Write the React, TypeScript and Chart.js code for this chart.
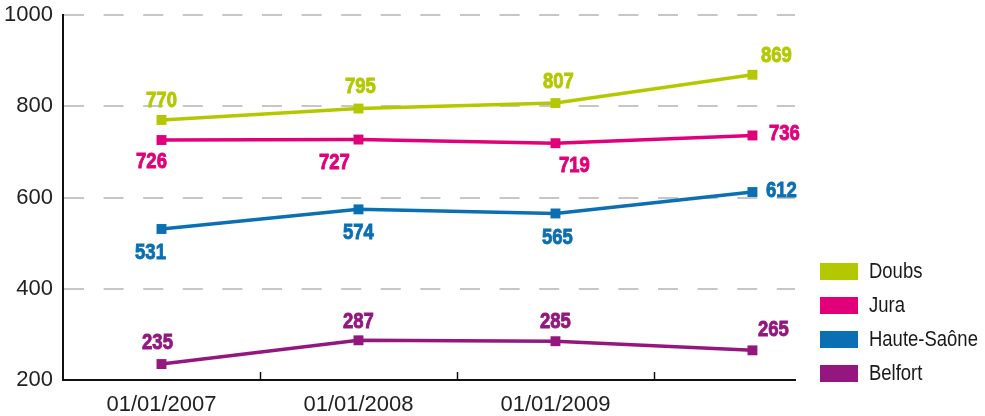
import React, { useEffect, useRef } from "react";
import { Chart, registerables } from "chart.js";

Chart.register(...registerables);

const categories = ["01/01/2007", "01/01/2008", "01/01/2009", ""];
const seriesNames = ["Doubs", "Jura", "Haute-Saône", "Belfort"];
const doubs = [770, 795, 807, 869];
const jura = [726, 727, 719, 736];
const hauteSaone = [531, 574, 565, 612];
const belfort = [235, 287, 285, 265];
const yTicks = [200, 400, 600, 800, 1000];

const colors = ["#b4c800", "#e2007a", "#0b6fb3", "#93177f"];
// label offsets (style) per series / point, in px
const labelOffsets = [
  [[0, -20], [2, -23], [3, -22], [24, -20]],
  [[-10, 21], [-24, 22], [19, 22], [32, -3]],
  [[-11, 23], [0, 23], [2, 23], [29, -2]],
  [[-4, -22], [0, -19], [0, -20], [21, -21]],
];

const LABEL_FONT = "bold 22px 'Liberation Sans', Arial, sans-serif";
const LEGEND_FONT = "22px 'Liberation Sans', Arial, sans-serif";
const CONDENSE = 0.84;

function condensedText(ctx: any, text: string, x: number, y: number, align: string, stroke: boolean) {
  ctx.save();
  ctx.translate(x, y);
  ctx.scale(CONDENSE, 1);
  ctx.textAlign = align;
  ctx.fillText(text, 0, 0);
  if (stroke) {
    ctx.lineWidth = 0.9;
    ctx.strokeStyle = ctx.fillStyle;
    ctx.strokeText(text, 0, 0);
  }
  ctx.restore();
}

const overlayPlugin = {
  id: "overlay",
  afterDraw(chart: any) {
    const ctx = chart.ctx;
    const xs = chart.scales.x;
    const area = chart.chartArea;
    ctx.save();
    // x tick marks between categories
    ctx.strokeStyle = "#111";
    ctx.lineWidth = 1.5;
    for (let i = 1; i < categories.length; i++) {
      const px = Math.round(xs.getPixelForValue(i - 0.5)) + 0.5;
      ctx.beginPath();
      ctx.moveTo(px, area.bottom - 8);
      ctx.lineTo(px, area.bottom);
      ctx.stroke();
    }
    // data labels
    ctx.font = LABEL_FONT;
    ctx.textBaseline = "middle";
    chart.data.datasets.forEach((ds: any, di: number) => {
      const meta = chart.getDatasetMeta(di);
      ctx.fillStyle = ds.borderColor;
      meta.data.forEach((el: any, pi: number) => {
        const off = labelOffsets[di][pi];
        condensedText(ctx, String(ds.data[pi].y), el.x + off[0], el.y + off[1] + 1, "center", true);
      });
    });
    // legend
    const lx = area.right + 25;
    const ly0 = 263;
    const step = 34;
    chart.data.datasets.forEach((ds: any, di: number) => {
      const y = ly0 + di * step;
      ctx.fillStyle = ds.borderColor;
      ctx.fillRect(lx, y, 38, 17);
      ctx.fillStyle = "#1a1a1a";
      ctx.font = LEGEND_FONT;
      ctx.textBaseline = "middle";
      condensedText(ctx, ds.label, lx + 49, y + 9, "left", false);
    });
    ctx.restore();
  },
};

export default function App() {
  const canvasRef = useRef<HTMLCanvasElement | null>(null);

  useEffect(() => {
    const allSeries = [doubs, jura, hauteSaone, belfort];
    const datasets = allSeries.map((vals, i) => ({
      label: seriesNames[i],
      data: vals.map((v, j) => ({ x: j, y: v })),
      borderColor: colors[i],
      backgroundColor: colors[i],
      pointBackgroundColor: colors[i],
      pointBorderWidth: 0,
      pointStyle: "rect",
      pointRadius: 7,
      borderWidth: 3.5,
      tension: 0,
    }));
    const chart = new Chart(canvasRef.current as HTMLCanvasElement, {
      type: "line",
      data: { datasets },
      options: {
        animation: false,
        responsive: true,
        maintainAspectRatio: false,
        layout: { padding: { left: 0, right: 190, top: 15, bottom: 0 } },
        plugins: { legend: { display: false }, tooltip: { enabled: false } },
        scales: {
          x: {
            type: "linear",
            min: -0.5,
            max: 3.216,
            grid: { display: false, drawTicks: false },
            border: { display: true, color: "#111", width: 2 },
            afterBuildTicks: (scale: any) => {
              scale.ticks = categories.map((_, i) => ({ value: i }));
            },
            afterFit: (scale: any) => {
              scale.height = 36;
              scale.paddingLeft = 0;
              scale.paddingRight = 0;
            },
            ticks: {
              autoSkip: false,
              maxRotation: 0,
              padding: 12,
              color: "#222",
              font: { family: "'Liberation Sans', Arial, sans-serif", size: 22 },
              callback: (v: any) => categories[v] ?? "",
            },
          },
          y: {
            min: 200,
            max: 1000,
            afterBuildTicks: (scale: any) => {
              scale.ticks = yTicks.map((v) => ({ value: v }));
            },
            afterFit: (scale: any) => {
              scale.width = 63;
              scale.paddingTop = 0;
              scale.paddingBottom = 0;
            },
            grid: {
              drawTicks: false,
              lineWidth: 2,
              color: (c: any) => (c.tick && c.tick.value === 200 ? "rgba(0,0,0,0)" : "#c6c6c6"),
            },
            border: { display: true, color: "#111", width: 2, dash: [20, 19.6] },
            ticks: {
              padding: 10,
              color: "#222",
              font: { family: "'Liberation Sans', Arial, sans-serif", size: 22 },
              callback: (v: any) => String(v),
            },
          },
        },
      },
      plugins: [overlayPlugin],
    } as any);
    return () => chart.destroy();
  }, []);

  return (
    <div style={{ position: "fixed", left: 0, top: 0, width: 985, height: 416, background: "#fff" }}>
      <canvas ref={canvasRef} />
    </div>
  );
}
